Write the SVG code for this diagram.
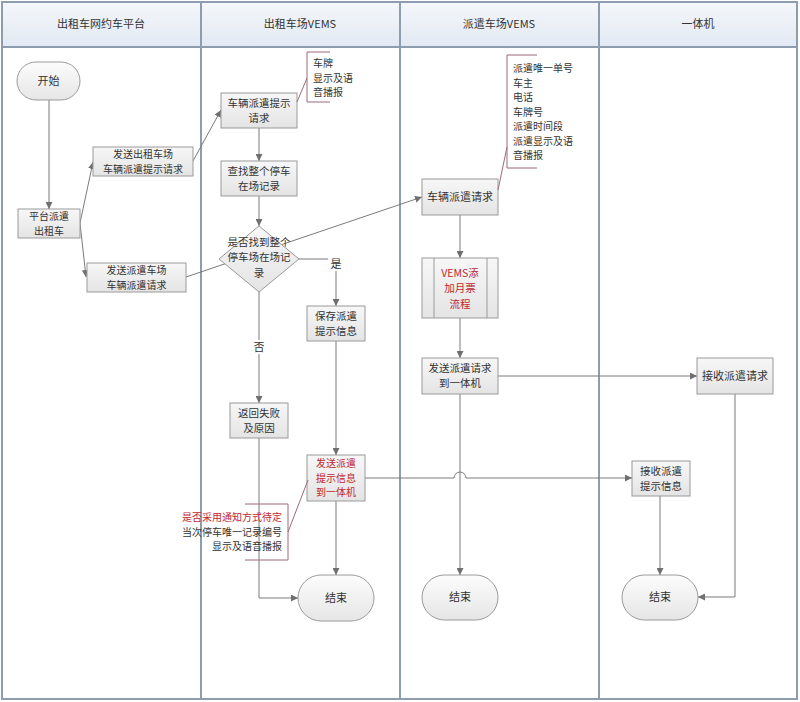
<svg xmlns="http://www.w3.org/2000/svg" width="800" height="702" viewBox="0 0 800 702">
<defs>
<linearGradient id="hdr" x1="0" y1="0" x2="0" y2="1"><stop offset="0" stop-color="#f4f7fb"/><stop offset="1" stop-color="#e2e9f3"/></linearGradient>
<linearGradient id="box" x1="0" y1="0" x2="0" y2="1"><stop offset="0" stop-color="#f7f7f7"/><stop offset="1" stop-color="#e4e4e4"/></linearGradient>
<linearGradient id="term" x1="0" y1="0" x2="0" y2="1"><stop offset="0" stop-color="#fcfcfc"/><stop offset="1" stop-color="#e6e6e6"/></linearGradient>
<marker id="arr" viewBox="0 0 10 10" refX="10" refY="5" markerWidth="7" markerHeight="7" orient="auto" markerUnits="userSpaceOnUse"><path d="M0,0 L10,5 L0,10 z" fill="#6f6f6f"/></marker>
<style>
text{font-family:"Noto Sans CJK SC","Liberation Sans",sans-serif;font-size:11px;fill:#333;text-anchor:middle}
.m{font-size:10.5px}
.s{font-size:10px}
.red{fill:#c0282f}
.blk{fill:#333}
.lt{text-anchor:start}
.rt{text-anchor:end}
.box{fill:url(#box);stroke:#9a9a9a;stroke-width:1}
.term{fill:url(#term);stroke:#9a9a9a;stroke-width:1}
.ln{fill:none;stroke:#7a7a7a;stroke-width:1}
.ar{marker-end:url(#arr)}
.co{fill:none;stroke:#9b6b77;stroke-width:1}
.lane{fill:none;stroke:#8e9cb0;stroke-width:2}
</style>
</defs>
<rect x="0" y="0" width="800" height="702" fill="#ffffff"/>
<g id="lanes">
<rect x="2" y="2" width="795" height="45" fill="url(#hdr)"/>
<line class="lane" x1="2" y1="47" x2="797" y2="47"/>
<rect class="lane" x="2" y="2" width="795" height="697"/>
<line class="lane" x1="201" y1="2" x2="201" y2="699"/>
<line class="lane" x1="400" y1="2" x2="400" y2="699"/>
<line class="lane" x1="599" y1="2" x2="599" y2="699"/>
<text x="101" y="28">出租车网约车平台</text>
<text x="300" y="28">出租车场VEMS</text>
<text x="499" y="28">派遣车场VEMS</text>
<text x="698" y="28">一体机</text>
</g>
<g id="connectors">
<path class="ln ar" d="M49,100 V209"/>
<path class="ln ar" d="M80,223 L93,162"/>
<path class="ln ar" d="M80,223 L86,277"/>
<path class="ln ar" d="M193,161 L221,110"/>
<path class="ln ar" d="M259,128 V161"/>
<path class="ln ar" d="M259,196 V226"/>
<path class="ln ar" d="M186,277 L422,197"/>
<path class="ln ar" d="M299,259 H336 V306"/>
<path class="ln ar" d="M259,292 V403"/>
<path class="ln ar" d="M336,341 V455"/>
<path class="ln ar" d="M259,438 V598 H298"/>
<path class="ln ar" d="M336,501 V575"/>
<path class="ln ar" d="M365,478 H454 A6,6 0 0 1 466,478 H632"/>
<path class="ln ar" d="M460,215 V258"/>
<path class="ln ar" d="M460,318 V358"/>
<path class="ln ar" d="M460,394 V575"/>
<path class="ln ar" d="M498,376 H697"/>
<path class="ln ar" d="M735,394 V597 H698"/>
<path class="ln ar" d="M660,496 V575"/>
<rect x="328" y="258" width="16" height="13" fill="#ffffff"/>
<text x="336" y="268">是</text>
<rect x="251" y="340" width="16" height="14" fill="#ffffff"/>
<text x="259" y="351">否</text>
</g>
<g id="start">
<rect class="term" x="17" y="62" width="63" height="38" rx="19"/>
<text x="48.5" y="85">开始</text>
</g>
<g id="dispatch">
<rect class="box" x="18" y="209" width="62" height="29"/>
<text class="s" x="49" y="220">平台派遣<tspan x="49" dy="14.5">出租车</tspan></text>
</g>
<g id="sendTaxiLot">
<rect class="box" x="93" y="147" width="100" height="29"/>
<text class="s" x="143" y="158">发送出租车场<tspan x="143" dy="14.5">车辆派遣提示请求</tspan></text>
</g>
<g id="sendDispatchLot">
<rect class="box" x="87" y="263" width="99" height="29"/>
<text class="s" x="136.5" y="274">发送派遣车场<tspan x="136.5" dy="14.5">车辆派遣请求</tspan></text>
</g>
<g id="promptReq">
<rect class="box" x="221" y="93" width="76" height="35"/>
<text class="m" x="259" y="107">车辆派遣提示<tspan x="259" dy="15.3">请求</tspan></text>
</g>
<g id="note1">
<path class="co" d="M330,52 H307 V102 H330"/>
<path class="co" d="M297,102 L307,78"/>
<text class="lt s" x="313" y="67">车牌<tspan x="313" dy="14.5">显示及语</tspan><tspan x="313" dy="14.5">音播报</tspan></text>
</g>
<g id="findRecord">
<rect class="box" x="221" y="161" width="76" height="35"/>
<text class="m" x="259" y="175">查找整个停车<tspan x="259" dy="15.3">在场记录</tspan></text>
</g>
<g id="decision">
<polygon class="box" points="259,226 299,259 259,292 219,259"/>
<text class="m" x="259" y="246">是否找到整个<tspan x="259" dy="15.3">停车场在场记</tspan><tspan x="259" dy="15.3">录</tspan></text>
</g>
<g id="saveInfo">
<rect class="box" x="307" y="306" width="58" height="35"/>
<text class="m" x="336" y="320">保存派遣<tspan x="336" dy="15.3">提示信息</tspan></text>
</g>
<g id="returnFail">
<rect class="box" x="230" y="403" width="58" height="35"/>
<text class="m" x="259" y="417">返回失败<tspan x="259" dy="15.3">及原因</tspan></text>
</g>
<g id="sendPrompt">
<rect class="box" x="307" y="455" width="58" height="46"/>
<text class="red s" x="336" y="467">发送派遣<tspan x="336" dy="14.5">提示信息</tspan><tspan x="336" dy="14.5">到一体机</tspan></text>
</g>
<g id="note2">
<path class="co" d="M245,504 H288 V560 H245"/>
<path class="co" d="M288,532 L308,480"/>
<text class="rt red s" x="282" y="521">是否采用通知方式待定<tspan class="blk" x="282" dy="14.5">当次停车唯一记录编号</tspan><tspan class="blk" x="282" dy="14.5">显示及语音播报</tspan></text>
</g>
<g id="end1">
<rect class="term" x="298" y="575" width="76" height="46" rx="23"/>
<text x="336" y="602">结束</text>
</g>
<g id="vehReq">
<rect class="box" x="422" y="179" width="76" height="36"/>
<text x="460" y="201">车辆派遣请求</text>
</g>
<g id="note3">
<path class="co" d="M537,55 H507 V168 H537"/>
<path class="co" d="M498,190 L507,147"/>
<text class="lt s" x="513" y="72">派遣唯一单号<tspan x="513" dy="14.5">车主</tspan><tspan x="513" dy="14.5">电话</tspan><tspan x="513" dy="14.5">车牌号</tspan><tspan x="513" dy="14.5">派遣时间段</tspan><tspan x="513" dy="14.5">派遣显示及语</tspan><tspan x="513" dy="14.5">音播报</tspan></text>
</g>
<g id="monthly">
<rect class="box" x="422" y="258" width="76" height="60"/>
<line x1="434" y1="258" x2="434" y2="318" stroke="#9a9a9a"/>
<line x1="487" y1="258" x2="487" y2="318" stroke="#9a9a9a"/>
<text class="red m" x="460" y="277">VEMS添<tspan x="460" dy="15.3">加月票</tspan><tspan x="460" dy="15.3">流程</tspan></text>
</g>
<g id="sendReq">
<rect class="box" x="422" y="358" width="76" height="36"/>
<text class="m" x="460" y="372">发送派遣请求<tspan x="460" dy="15.3">到一体机</tspan></text>
</g>
<g id="end2">
<rect class="term" x="422" y="575" width="76" height="45" rx="22.5"/>
<text x="460" y="601">结束</text>
</g>
<g id="recvReq">
<rect class="box" x="697" y="358" width="76" height="36"/>
<text x="735" y="380">接收派遣请求</text>
</g>
<g id="recvPrompt">
<rect class="box" x="632" y="461" width="58" height="35"/>
<text class="m" x="661" y="475">接收派遣<tspan x="661" dy="15.3">提示信息</tspan></text>
</g>
<g id="end3">
<rect class="term" x="622" y="575" width="76" height="45" rx="22.5"/>
<text x="660" y="601">结束</text>
</g>
</svg>
